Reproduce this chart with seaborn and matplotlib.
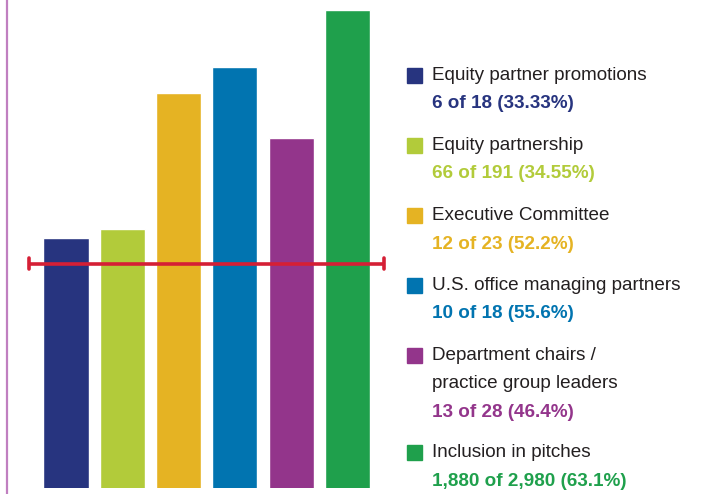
import matplotlib
matplotlib.use("Agg")
import matplotlib.pyplot as plt
import seaborn as sns
import pandas as pd
from matplotlib.patches import Rectangle

# data
categories = ["Equity partner promotions", "Equity partnership", "Executive Committee",
              "U.S. office managing partners", "Department chairs /\npractice group leaders",
              "Inclusion in pitches"]
counts = ["6 of 18 (33.33%)", "66 of 191 (34.55%)", "12 of 23 (52.2%)",
          "10 of 18 (55.6%)", "13 of 28 (46.4%)", "1,880 of 2,980 (63.1%)"]
percents = [33.33, 34.55, 52.2, 55.6, 46.4, 63.1]
target = 30
colors = ["#27347f", "#b2cb3a", "#e5b323", "#0174b0", "#93358b", "#1fa04c"]

sns.set_style("white")
plt.rcParams['font.family'] = ['Liberation Sans', 'DejaVu Sans']

df = pd.DataFrame({"cat": categories, "pct": percents})

fig = plt.figure(figsize=(7.02, 4.94), dpi=100)
W, H = 702, 494
ax = fig.add_axes([6.5 / W, 6 / H, (390 - 6.5) / W, (494 - 6) / H])
sns.barplot(data=df, x="cat", y="pct", hue="cat", palette=colors, width=0.8,
            saturation=1, legend=False, ax=ax)
ax.set_xlim(-1.057, 5.755)
ax.set_ylim(0.7, 64.4)
ax.set_xlabel("")
ax.set_ylabel("")
ax.set_xticks([])
ax.set_yticks([])
for s in ["top", "right", "bottom"]:
    ax.spines[s].set_visible(False)
ax.spines["left"].set_color("#c07fc0")
ax.spines["left"].set_linewidth(1.6)
ax.spines["left"].set_bounds(-10, 80)
ax.spines["left"].set_clip_on(False)

# 30% goal line with end caps
red = "#d51f35"
ax.plot([-0.657, 5.648], [target, target], color=red, lw=2.6, solid_capstyle="butt")
ax.plot([-0.657, -0.657], [target - 0.75, target + 0.75], color=red, lw=2.6)
ax.plot([5.648, 5.648], [target - 0.75, target + 0.75], color=red, lw=2.6)

# legend, drawn by hand
first_y = [75, 145, 215, 285, 355, 452]
for i, (cat, cnt) in enumerate(zip(categories, counts)):
    y0 = first_y[i]
    fig.patches.append(Rectangle((407 / W, 1 - (y0 + 8) / H), 15 / W, 15 / H,
                                 transform=fig.transFigure, color=colors[i]))
    lines = cat.split("\n")
    for k, ln in enumerate(lines):
        fig.text(432 / W, 1 - (y0 + 28 * k) / H, ln, fontsize=13.6, color="#231f20",
                 va="center", ha="left")
    fig.text(432 / W, 1 - (y0 + 28 * len(lines) + 1) / H, cnt, fontsize=13.6,
             color=colors[i], fontweight="bold", va="center", ha="left")

fig.savefig("out.png", dpi=100)
